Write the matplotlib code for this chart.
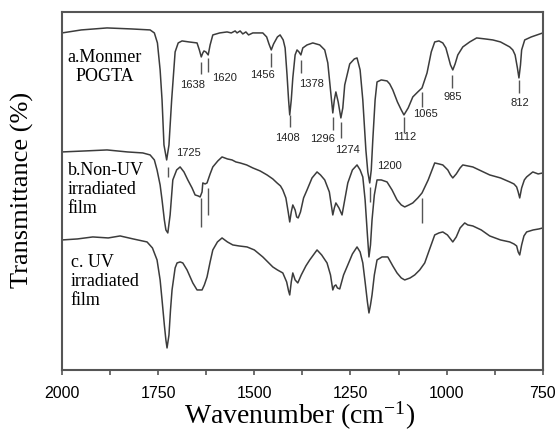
import numpy as np
import matplotlib
matplotlib.use("Agg")
import matplotlib.pyplot as plt

plt.rcParams["mathtext.fontset"] = "stix"

# Curve a: monomer POGTA (wavenumber, transmittance in arbitrary units)
wn_a = [2000, 1950, 1883, 1820, 1771, 1760, 1752, 1745, 1740, 1735, 1728, 1722, 1715, 1706,
        1698, 1688, 1670, 1649, 1643, 1638, 1634, 1631, 1626, 1620, 1615, 1608, 1590,
        1571, 1560, 1550, 1545, 1537, 1530, 1522, 1515, 1504, 1490, 1478, 1468, 1462,
        1456, 1450, 1440, 1433, 1425, 1420, 1415, 1411, 1408, 1404, 1400, 1394, 1389,
        1384, 1379, 1374, 1363, 1348, 1330, 1317, 1309, 1302, 1296, 1292, 1288, 1282,
        1275, 1270, 1265, 1252, 1240, 1233, 1225, 1218, 1210, 1205, 1200, 1196, 1192,
        1186, 1181, 1170, 1155, 1148, 1140, 1128, 1118, 1111, 1100, 1088, 1075, 1064,
        1051, 1040, 1031, 1020, 1010, 1002, 997, 990, 984, 978, 971, 958, 940, 922, 900,
        880, 860, 836, 828, 822, 816, 812, 808, 805, 797, 780, 765, 750]
t_a = [337, 340, 342, 341, 340, 337, 327, 300, 270, 225, 210, 225, 270, 318,
       327, 329, 328, 327, 320, 313, 317, 319, 318, 315, 325, 335, 337,
       338, 337, 339, 337, 339, 336, 338, 335, 337, 337, 337, 333, 326,
       320, 326, 333, 335, 330, 322, 295, 270, 255, 270, 292, 315, 320,
       318, 315, 322, 325, 327, 325, 320, 307, 280, 257, 270, 278, 268,
       252, 262, 285, 306, 311, 312, 300, 270, 220, 198, 187, 200, 230,
       270, 288, 290, 289, 286, 280, 268, 260, 255, 262, 273, 278, 282,
       297, 318, 328, 329, 327, 322, 315, 305, 300, 306, 315, 323, 328, 332, 331,
       330, 328, 323, 320, 315, 302, 292, 305, 320, 330, 333, 335, 337]

# Curve b: non-UV irradiated film
wn_b = [2000, 1940, 1883, 1830, 1790, 1771, 1760, 1753, 1745, 1740, 1734, 1730, 1725, 1719,
        1712, 1702, 1693, 1683, 1673, 1662, 1654, 1646, 1641, 1636, 1634, 1628, 1623,
        1615, 1608, 1595, 1584, 1570, 1558, 1548, 1537, 1520, 1504, 1485, 1467, 1452,
        1441, 1432, 1426, 1418, 1412, 1408, 1404, 1400, 1394, 1390, 1386, 1380, 1372,
        1363, 1350, 1337, 1328, 1317, 1305, 1296, 1292, 1288, 1280, 1272, 1265, 1257,
        1245, 1233, 1225, 1218, 1212, 1206, 1202, 1198, 1194, 1188, 1181, 1170, 1155,
        1142, 1129, 1118, 1109, 1098, 1088, 1075, 1064, 1048, 1031, 1020, 1010, 997,
        990, 984, 975, 965, 958, 945, 932, 910, 888, 860, 836, 825, 818, 814, 810,
        805, 798, 792, 776, 762, 750]
t_b = [218, 219, 220, 218, 217, 215, 210, 200, 185, 170, 150, 140, 137, 155,
       190, 200, 203, 198, 190, 182, 175, 174, 173, 178, 187, 186, 187,
       196, 203, 209, 213, 211, 210, 208, 207, 205, 202, 199, 195, 191,
       187, 184, 180, 172, 158, 148, 158, 165, 160, 153, 152, 158, 172,
       180, 192, 198, 195, 190, 178, 155, 162, 167, 162, 155, 170, 187,
       200, 205, 200, 193, 170, 135, 113, 125, 150, 175, 190, 190, 188,
       180, 170, 165, 163, 165, 167, 172, 177, 190, 207, 206, 205, 200,
       195, 192, 196, 202, 205, 204, 203, 199, 195, 192, 188, 186, 183, 178, 172,
       182, 190, 193, 198, 196, 197]

# Curve c: UV irradiated film
wn_c = [2000, 1960, 1920, 1880, 1849, 1815, 1779, 1765, 1753, 1745, 1740, 1734, 1730,
        1727, 1722, 1718, 1714, 1706, 1701, 1693, 1686, 1675, 1660, 1649, 1642, 1636,
        1630, 1623, 1615, 1608, 1596, 1584, 1570, 1556, 1540, 1519, 1500, 1478, 1465,
        1452, 1440, 1426, 1416, 1411, 1408, 1404, 1400, 1394, 1387, 1378, 1366, 1356,
        1337, 1325, 1311, 1302, 1296, 1292, 1288, 1284, 1278, 1268, 1257, 1245, 1233,
        1225, 1218, 1212, 1206, 1202, 1198, 1194, 1188, 1181, 1168, 1153, 1140, 1129,
        1118, 1109, 1095, 1083, 1070, 1057, 1045, 1031, 1020, 1010, 998, 990, 984,
        975, 965, 953, 945, 932, 910, 888, 860, 836, 825, 818, 814, 810, 805, 799,
        792, 775, 760, 750]
t_c = [130, 131, 133, 132, 134, 131, 128, 122, 110, 90, 70, 45, 30,
       22, 35, 60, 80, 102, 107, 108, 107, 100, 87, 80, 80, 80,
       85, 93, 108, 120, 128, 132, 128, 125, 124, 123, 120, 113, 108,
       103, 100, 97, 88, 79, 75, 88, 97, 90, 87, 95, 104, 110,
       120, 115, 107, 95, 80, 84, 85, 82, 81, 95, 105, 116, 123,
       118, 107, 88, 68, 57, 65, 75, 95, 110, 113, 113, 104, 97,
       92, 90, 92, 95, 100, 107, 120, 135, 137, 138, 135, 131, 128,
       133, 142, 147, 145, 144, 140, 134, 130, 128, 126, 124, 118, 115,
       125, 134, 138, 140, 141, 142]

# Peak labels (text, label x, label y) and marker lines
peak_text = ["1638", "1620", "1456", "1378", "1408", "1296", "1274", "1200",
             "1112", "1065", "985", "812", "1725"]
peak_tx = [1660, 1578, 1480, 1352, 1413, 1324, 1257, 1148, 1109, 1054, 984, 810, 1672]
peak_ty = [285, 292, 295, 286, 232, 231, 220, 204, 233, 256, 273, 267, 217]

mark_wn = [1638, 1620, 1456, 1408, 1378, 1296, 1274, 1112, 1065, 985, 812,
           1725, 1638, 1620, 1200, 1065]
mark_top = [308, 312, 317, 255, 310, 253, 248, 253, 278, 295, 290,
            203, 172, 182, 183, 172]
mark_bot = [296, 298, 303, 243, 297, 240, 232, 237, 263, 282, 277,
            193, 143, 155, 168, 147]

curve_names = ["a.Monmer\nPOGTA", "b.Non-UV\nirradiated\nfilm", "c. UV\nirradiated\nfilm"]

fig = plt.figure(figsize=(5.59, 4.42), dpi=100)
ax = fig.add_axes([0.111, 0.163, 0.860, 0.810])

line_col = "#3c3c3c"
ax.plot(wn_a, t_a, color=line_col, lw=1.1)
ax.plot(wn_b, t_b, color=line_col, lw=1.1)
ax.plot(wn_c, t_c, color=line_col, lw=1.1)

ax.vlines(mark_wn, mark_bot, mark_top, color="#555555", lw=1.0)
for s, x, y in zip(peak_text, peak_tx, peak_ty):
    ax.text(x, y, s, fontsize=8, family="Liberation Sans", color="#222222",
            ha="center", va="center")

ax.text(1985, 303, curve_names[0], fontsize=13, family="Liberation Serif",
        va="center", ha="left", multialignment="center", linespacing=1.15)
ax.text(1985, 180, curve_names[1], fontsize=13, family="Liberation Serif",
        va="center", ha="left", linespacing=1.15)
ax.text(1978, 88, curve_names[2], fontsize=13, family="Liberation Serif",
        va="center", ha="left", linespacing=1.15)

ax.set_xlim(2000, 750)
ax.set_ylim(0, 358)
ax.set_xticks([2000, 1750, 1500, 1250, 1000, 750])
ax.set_xticks([1875, 1625, 1375, 1125, 875], minor=True)
ax.set_yticks([])
ax.tick_params(axis="x", which="both", direction="out", length=3.5, width=1.2,
               color="#555555", labelsize=11.5, pad=8)
for lab in ax.get_xticklabels():
    lab.set_family("Liberation Sans")
for sp in ax.spines.values():
    sp.set_color("#555555")
    sp.set_linewidth(1.5)

fig.text(0.537, 1 - 416 / 442, r"Wavenumber (cm$^{\mathregular{-1}}$)",
         fontsize=20, family="Liberation Serif", ha="center", va="center")
fig.text(0.040, 1 - 190 / 442, "Transmittance (%)", fontsize=19,
         family="Liberation Serif", ha="center", va="center", rotation=90)

fig.savefig("out.png", dpi=100)
